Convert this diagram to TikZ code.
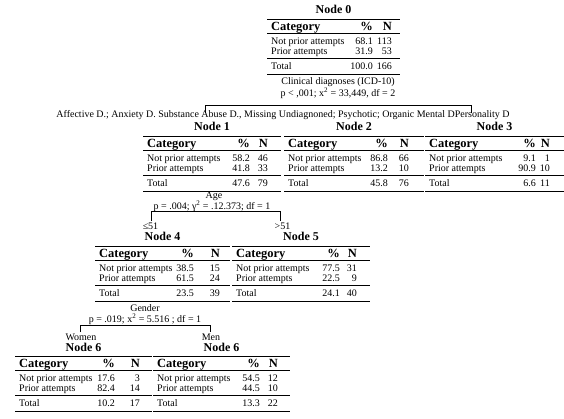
\documentclass[tikz,border=0pt]{standalone}
\usepackage{fontspec}
\setmainfont{Liberation Serif}

% one category table: corner, width, right edge of the % column, values
\newcommand{\cattable}[9]{%
  \begin{scope}[shift={(#1)}]
    \draw[tabrule] (0,0) -- (#2,0);
    \node[cathead, anchor=base west] (#1-cat) at (4,11) {Category};
    \node[cathead, anchor=base east] (#1-pct) at (#3,11) {\%};
    \node[cathead, anchor=base east] (#1-n) at (125,11) {N};
    \draw[tabrule] (0,14) -- (#2,14);
    \node[cellt, anchor=base west] (#1-r1) at (4,25.5) {Not prior attempts};
    \node[cellt, anchor=base east] at (#3,25.5) {#4};
    \node[cellt, anchor=base east] at (125,25.5) {#5};
    \node[cellt, anchor=base west] (#1-r2) at (4,35.5) {Prior attempts};
    \node[cellt, anchor=base east] at (#3,35.5) {#6};
    \node[cellt, anchor=base east] at (125,35.5) {#7};
    \draw[tabrule] (0,39.5) -- (#2,39.5);
    \node[cellt, anchor=base west] (#1-tot) at (4,50.5) {Total};
    \node[cellt, anchor=base east] at (#3,50.5) {#8};
    \node[cellt, anchor=base east] at (125,50.5) {#9};
    \draw[tabrule] (0,55) -- (#2,55);
  \end{scope}}

\begin{document}
\begin{tikzpicture}[x=1pt, y=-1pt,
    tabrule/.style={line width=0.9pt},
    branch/.style={line width=0.8pt},
    cellt/.style={inner sep=0pt, font=\fontsize{10}{10}\selectfont},
    cathead/.style={inner sep=0pt, font=\fontsize{12.5}{13}\selectfont\bfseries},
    nodetitle/.style={inner sep=0pt, anchor=base, font=\fontsize{12}{12}\selectfont\bfseries},
    splitlab/.style={inner sep=0pt, anchor=base, font=\fontsize{10}{10}\selectfont}]
  \useasboundingbox (0,0) rectangle (564,418);

  % Node 0
  \coordinate (t0) at (267,19);
  \node[nodetitle] (h0) at (333.5,13) {Node 0};
  \cattable{t0}{133}{106}{68.1}{113}{31.9}{53}{100.0}{166}

  % split on clinical diagnoses
  \node[splitlab] (s0a) at (338,84.5) {Clinical diagnoses (ICD-10)};
  \node[splitlab] (s0b) at (338,96) {p < ,001; x\textsuperscript{2} = 33,449, df = 2};
  \coordinate (b0l) at (205,113);
  \coordinate (b0r) at (471,113);
  \draw[branch] (b0l) -- ++(0,-8) -| (b0r);
  \node[splitlab] (c0) at (283,117.5) {Affective D.; Anxiety D. Substance Abuse D., Missing Undiagnoned; Psychotic; Organic Mental DPersonality D};

  % Node 1, 2, 3
  \coordinate (t1) at (143,136);
  \coordinate (t2) at (284,136);
  \coordinate (t3) at (425,136);
  \node[nodetitle] (h1) at (212,130) {Node 1};
  \node[nodetitle] (h2) at (354,130) {Node 2};
  \node[nodetitle] (h3) at (494.5,130) {Node 3};
  \cattable{t1}{138}{107}{58.2}{46}{41.8}{33}{47.6}{79}
  \cattable{t2}{140}{104}{86.8}{66}{13.2}{10}{45.8}{76}
  \cattable{t3}{139}{111}{9.1}{1}{90.9}{10}{6.6}{11}

  % split on age
  \node[splitlab] (s1a) at (214,198.5) {Age};
  \node[splitlab] (s1b) at (212,209) {p = .004; γ\textsuperscript{2} = .12.373; df = 1};
  \coordinate (b1l) at (151,221);
  \coordinate (b1r) at (280,221);
  \draw[branch] (b1l) -- ++(0,-9.5) -| (b1r);
  \node[splitlab] (c1l) at (150.5,229) {≤51};
  \node[splitlab] (c1r) at (282.5,229) {>51};

  % Node 4, 5
  \coordinate (t4) at (95,246);
  \coordinate (t5) at (232,246);
  \node[nodetitle] (h4) at (162.5,240) {Node 4};
  \node[nodetitle] (h5) at (301,240) {Node 5};
  \cattable{t4}{135}{99}{38.5}{15}{61.5}{24}{23.5}{39}
  \cattable{t5}{138}{108}{77.5}{31}{22.5}{9}{24.1}{40}

  % split on gender
  \node[splitlab] (s2a) at (145,311) {Gender};
  \node[splitlab] (s2b) at (145,322) {p = .019; x\textsuperscript{2} = 5.516 ; df = 1};
  \coordinate (b2l) at (80,332);
  \coordinate (b2r) at (210,332);
  \draw[branch] (b2l) -- ++(0,-7) -| (b2r);
  \node[splitlab] (c2l) at (81,340) {Women};
  \node[splitlab] (c2r) at (211,340) {Men};

  % Node 6 (women, men)
  \coordinate (t6) at (15,356);
  \coordinate (t7) at (153,356);
  \node[nodetitle] (h6) at (83.5,351.5) {Node 6};
  \node[nodetitle] (h7) at (221.5,351.5) {Node 6};
  \cattable{t6}{137}{100}{17.6}{3}{82.4}{14}{10.2}{17}
  \cattable{t7}{137}{107}{54.5}{12}{44.5}{10}{13.3}{22}
\end{tikzpicture}
\end{document}
